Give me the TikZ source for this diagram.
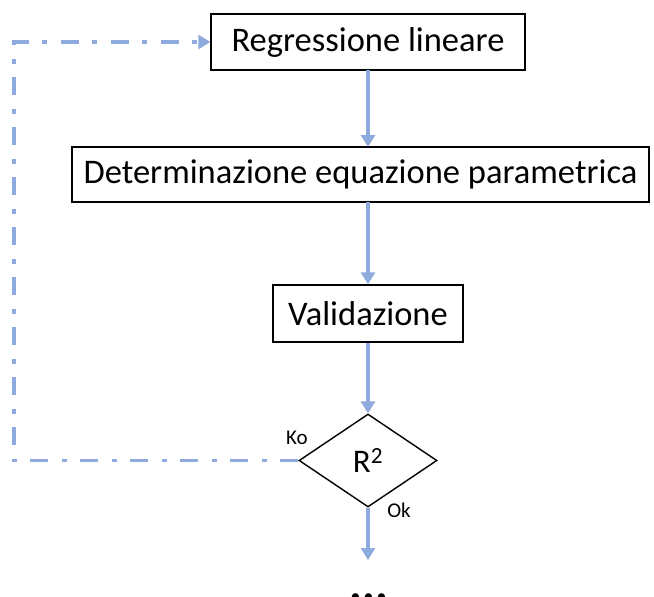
\documentclass[tikz,border=0pt]{standalone}
\usepackage{fontspec}
\setmainfont{Carlito}
\usetikzlibrary{arrows.meta,shapes.geometric}
\definecolor{flowblue}{RGB}{143,170,220}
\tikzset{
  stepbox/.style={draw=black,line width=1.4pt,rectangle,inner sep=0pt,
    font=\fontsize{34.5}{38}\selectfont},
  flow/.style={draw=flowblue,line width=3.8pt,
    -{Triangle[width=14pt,length=12pt]}},
  loopback/.style={flow,dash pattern=on 18pt off 13pt on 5pt off 14pt},
  tag/.style={font=\fontsize{21}{23}\selectfont,inner sep=0pt}
}
\begin{document}
\begin{tikzpicture}[x=1pt,y=-1pt]
  \useasboundingbox (0,0) rectangle (654,597);

  \node[stepbox,minimum width=314pt,minimum height=56pt] (reg) at (368,42) {Regressione lineare};
  \node[stepbox,minimum width=577pt,minimum height=55pt] (det) at (360.5,174.5) {Determinazione equazione parametrica};
  \node[stepbox,minimum width=190pt,minimum height=57pt] (val) at (368,313.5) {Validazione};
  \node[draw=black,line width=1.4pt,diamond,inner sep=0pt,
        minimum width=138pt,minimum height=93pt,
        font=\fontsize{33}{35}\selectfont] (dia) at (368,460.5) {R\textsuperscript{2}};

  \node[tag] (ko) at (297,438) {Ko};
  \node[tag] (ok) at (399,510) {Ok};

  \coordinate (next) at (368,560);
  \coordinate (c1) at (14,460.5);
  \coordinate (c2) at (14,42);
  \node[anchor=base,font=\fontsize{48}{50}\selectfont\bfseries,inner sep=0pt] (dots) at (369,600) {...};

  \draw[flow] (368,70) -- (368,147);
  \draw[flow] (368,202) -- (val.north);
  \draw[flow] (val.south) -- (dia.north);
  \draw[flow] (dia.south) -- (next);
  \draw[loopback] (dia.west) -- (c1) -- (c2) -- (reg.west);
\end{tikzpicture}
\end{document}
